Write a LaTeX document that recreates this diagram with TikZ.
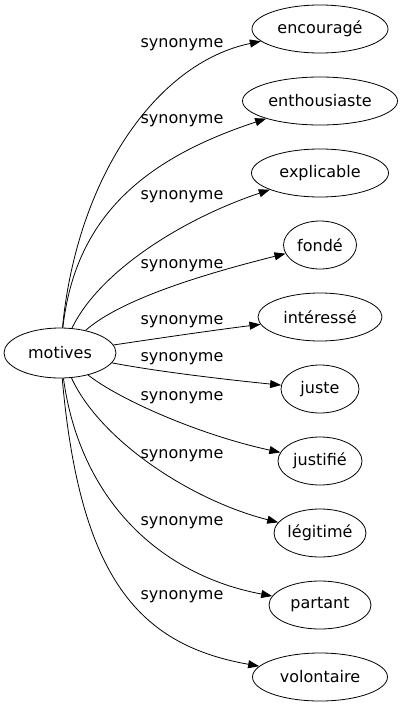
\documentclass[tikz,border=0pt]{standalone}
\usepackage{fontspec}
\setmainfont{DejaVu Sans}
\usetikzlibrary{shapes.geometric,arrows.meta}

\begin{document}
\begin{tikzpicture}[x=1pt, y=-1pt,
    word/.style={draw, ellipse, line width=0.8pt, minimum height=48pt, inner sep=0pt,
        font=\fontsize{16}{19}\selectfont},
    syn/.style={inner sep=0pt, font=\fontsize{16}{19}\selectfont},
    link/.style={-{Triangle[length=11pt,width=8pt]}, line width=0.8pt}]

\useasboundingbox (0,0) rectangle (403,707);

% source
    \node[word, minimum width=112pt, minimum height=50pt] (motives) at (60,353) {motives};

% synonyms
    \node[word, minimum width=136pt] (encourage)    at (320,29)  {encouragé};
    \node[word, minimum width=155pt] (enthousiaste) at (320,101) {enthousiaste};
    \node[word, minimum width=137pt] (explicable)   at (320,173) {explicable};
    \node[word, minimum width=73pt]  (fonde)        at (320,245) {fondé};
    \node[word, minimum width=124pt] (interesse)    at (320,317) {intéressé};
    \node[word, minimum width=78pt]  (juste)        at (320,389) {juste};
    \node[word, minimum width=84pt]  (justifie)     at (320,461) {justifié};
    \node[word, minimum width=91pt]  (legitime)     at (320,533) {légitimé};
    \node[word, minimum width=102pt] (partant)      at (320,605) {partant};
    \node[word, minimum width=135pt] (volontaire)   at (320,677) {volontaire};

% labels
    \node[syn] (s1)  at (182,45)  {synonyme};
    \node[syn] (s2)  at (182,121) {synonyme};
    \node[syn] (s3)  at (182,197) {synonyme};
    \node[syn] (s4)  at (182,266) {synonyme};
    \node[syn] (s5)  at (182,322) {synonyme};
    \node[syn] (s6)  at (182,359) {synonyme};
    \node[syn] (s7)  at (182,398) {synonyme};
    \node[syn] (s8)  at (182,456) {synonyme};
    \node[syn] (s9)  at (182,523) {synonyme};
    \node[syn] (s10) at (182,597) {synonyme};

% edges
    \draw[link] (motives) .. controls (77,178)  and (156,63)  .. (encourage);
    \draw[link] (motives) .. controls (75,220)  and (140,160) .. (enthousiaste);
    \draw[link] (motives) .. controls (100,270) and (185,218) .. (explicable);
    \draw[link] (motives) .. controls (120,300) and (200,275) .. (fonde);
    \draw[link] (motives) .. controls (160,338) and (215,330) .. (interesse);
    \draw[link] (motives) .. controls (160,372) and (230,380) .. (juste);
    \draw[link] (motives) .. controls (120,400) and (200,435) .. (justifie);
    \draw[link] (motives) .. controls (100,440) and (190,500) .. (legitime);
    \draw[link] (motives) .. controls (80,500)  and (160,575) .. (partant);
    \draw[link] (motives) .. controls (80,580)  and (140,645) .. (volontaire);

\end{tikzpicture}
\end{document}
